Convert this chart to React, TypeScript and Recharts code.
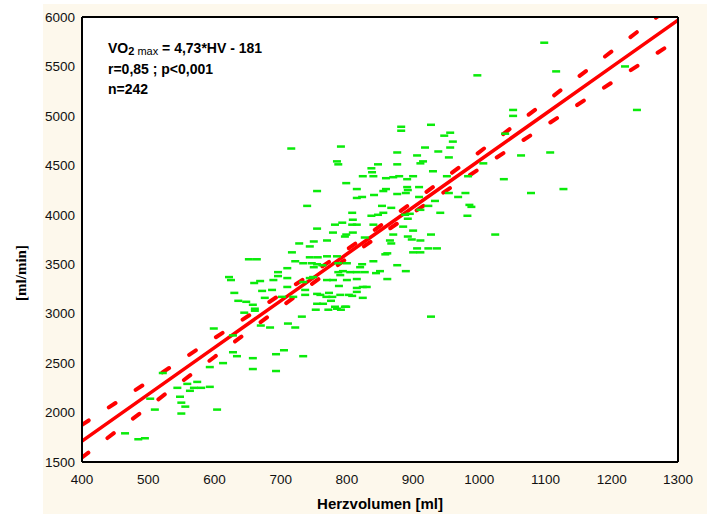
import React from 'react';
import {
  ComposedChart,
  Scatter,
  Line,
  XAxis,
  YAxis,
  CartesianGrid,
} from 'recharts';

// Herzvolumen [ml] of every subject
const herzvolumen = [
  465, 485, 495, 503, 510, 522, 544, 548, 550, 556,
  550, 559, 563, 569, 574, 580, 593, 604, 593, 613,
  599, 628, 628, 634, 658, 658, 693, 705, 693, 734,
  645, 661, 670, 684, 711, 732, 722, 622, 625, 630,
  636, 648, 658, 661, 652, 664, 660, 669, 672, 676,
  689, 687, 696, 696, 710, 710, 710, 702, 719, 722,
  717, 728, 734, 737, 734, 744, 756, 747, 755, 763,
  750, 744, 737, 755, 760, 769, 778, 776, 773, 790,
  755, 764, 753, 772, 782, 785, 799, 770, 785, 770,
  779, 787, 790, 787, 800, 800, 788, 808, 815, 815,
  815, 824, 803, 824, 797, 791, 805, 815, 827, 844,
  850, 794, 823, 820, 840, 861, 876, 889, 830, 927,
  749, 744, 750, 770, 755, 782, 793, 779, 799, 797,
  809, 808, 815, 809, 808, 837, 847, 855, 840, 827,
  870, 885, 892, 895, 900, 892, 927, 865, 867, 911,
  898, 906, 923, 936, 900, 911, 861, 858, 941, 982,
  911, 888, 923, 933, 853, 867, 740, 1024, 716, 791,
  785, 787, 847, 876, 876, 882, 882, 927, 947, 956,
  960, 906, 918, 938, 956, 954, 915, 911, 930, 837,
  838, 824, 840, 859, 870, 879, 891, 900, 951, 983,
  799, 755, 815, 855, 859, 891, 892, 909, 876, 889,
  841, 815, 823, 909, 954, 968, 979, 985, 988, 1006,
  1037, 1039, 1051, 1051, 1063, 1107, 1078, 1127, 997, 1098,
  1116, 1220, 1238,
];

// VO2 max [ml/min], same order
const vo2max = [
  1790, 1730, 1740, 2140, 2030, 2400, 2250, 2160, 2100, 2060,
  1990, 2290, 2220, 2250, 2310, 2250, 2260, 2030, 2460, 2500,
  2850, 2780, 2610, 2570, 2550, 2440, 2590, 2630, 2420, 2570,
  3010, 3030, 2880, 2860, 2900, 2970, 2860, 3370, 3340, 3210,
  3130, 3120, 3090, 3050, 3550, 3550, 3310, 3330, 3230, 3160,
  3340, 3240, 3420, 3380, 3460, 3360, 3270, 3170, 3170, 3530,
  3620, 3710, 3510, 3240, 3320, 3570, 3570, 3510, 3500, 3490,
  3470, 3360, 3190, 3200, 3190, 3170, 3170, 3130, 3210, 3190,
  3100, 3100, 3040, 3040, 3070, 3050, 3070, 3580, 3580, 3340,
  3340, 3420, 3390, 3510, 3510, 3340, 3280, 3180, 3220, 3350,
  3260, 3270, 3190, 3160, 3070, 3040, 3420, 3420, 3420, 3410,
  3430, 3430, 3500, 3470, 3530, 3350, 3490, 3430, 3270, 2970,
  3370, 3680, 3730, 3740, 3860, 3900, 3920, 3820, 3800, 3780,
  3820, 3900, 3900, 3950, 4020, 3990, 4000, 4020, 3900, 3770,
  3800, 3880, 3960, 4010, 3840, 3780, 3800, 3740, 3710, 3740,
  3750, 3660, 3660, 3660, 3620, 3620, 3610, 3600, 4020, 3990,
  4050, 4000, 4090, 4140, 4090, 4070, 4090, 3800, 4670, 4690,
  4540, 4510, 4510, 4510, 4630, 4890, 4850, 4910, 4800, 4830,
  4740, 4600, 4680, 4640, 4680, 4580, 4540, 4520, 4440, 4470,
  4430, 4390, 4390, 4370, 4380, 4390, 4360, 4390, 4390, 4390,
  4320, 4240, 4260, 4240, 4260, 4280, 4250, 4280, 4210, 4220,
  4200, 4170, 4180, 4180, 4220, 4180, 4220, 4100, 4080, 4520,
  4360, 4820, 5060, 5000, 4600, 4630, 4220, 4260, 5410, 5740,
  5450, 5500, 5060,
];

// regression line and its confidence band, read at the x ticks
const xTicks = [400, 500, 600, 700, 800, 900, 1000, 1100, 1200, 1300];
const fitLine = [1711, 2184, 2657, 3130, 3603, 4076, 4549, 5022, 5495, 5968];
const upperBand = [1876, 2312, 2752, 3195, 3648, 4131, 4634, 5142, 5653, 6163];
const lowerBand = [1546, 2056, 2562, 3065, 3558, 4021, 4464, 4902, 5337, 5773];
const yTicks = [1500, 2000, 2500, 3000, 3500, 4000, 4500, 5000, 5500, 6000];

const points = herzvolumen.map((x, i) => ({ x, y: vo2max[i] }));
const lineData = xTicks.map((x, i) => ({
  x,
  fit: fitLine[i],
  upper: upperBand[i],
  lower: lowerBand[i],
}));

const CREAM = '#fdf8ec';
const RED = '#ff0000';
const GREEN = '#0aeb0a';
const tickFont = { fontSize: 13.5, fill: '#111', fontFamily: '"Liberation Sans", Arial, sans-serif' };

const Dash = (props) => {
  const { cx, cy } = props;
  if (cx == null || cy == null) return null;
  return <rect x={cx - 4} y={cy - 1.25} width={8} height={2.5} fill={GREEN} />;
};

const App = () => {
  return (
    <div style={{ position: 'absolute', left: 0, top: 0, width: 707, height: 514, overflow: 'hidden', background: '#fff' }}>
      <div style={{ position: 'absolute', left: 43, top: 4, right: 0, bottom: 0, background: CREAM }} />
      <div style={{ position: 'absolute', left: 0, top: 0 }}>
        <ComposedChart
          width={707}
          height={514}
          margin={{ top: 17, right: 29, left: 0, bottom: 0 }}
        >
          <CartesianGrid fill="#ffffff" horizontal={false} vertical={false} />
          <XAxis
            dataKey="x"
            type="number"
            domain={[400, 1300]}
            ticks={xTicks}
            allowDataOverflow
            height={52}
            tickLine={false}
            tickSize={0}
            tickMargin={12}
            axisLine={{ stroke: '#000', strokeWidth: 2 }}
            tick={tickFont}
          />
          <XAxis
            xAxisId="top"
            orientation="top"
            dataKey="x"
            type="number"
            domain={[400, 1300]}
            ticks={xTicks}
            mirror
            tickSize={5}
            tickLine={{ stroke: '#000', strokeWidth: 1.5 }}
            axisLine={{ stroke: '#000', strokeWidth: 2 }}
            tickFormatter={() => ''}
          />
          <YAxis
            type="number"
            domain={[1500, 6000]}
            ticks={yTicks}
            allowDataOverflow
            width={82}
            tickLine={false}
            tickSize={0}
            tickMargin={7}
            axisLine={{ stroke: '#000', strokeWidth: 2 }}
            tick={tickFont}
          />
          <YAxis
            yAxisId="right"
            orientation="right"
            type="number"
            domain={[1500, 6000]}
            ticks={yTicks}
            mirror
            tickSize={5}
            tickLine={{ stroke: '#000', strokeWidth: 1.5 }}
            axisLine={{ stroke: '#000', strokeWidth: 2 }}
            tickFormatter={() => ''}
          />
          <Scatter data={points} dataKey="y" shape={<Dash />} isAnimationActive={false} />
          <Line
            data={lineData}
            dataKey="upper"
            stroke={RED}
            strokeWidth={4}
            strokeDasharray="8 24"
            strokeLinecap="round"
            dot={false}
            type="monotone"
            isAnimationActive={false}
          />
          <Line
            data={lineData}
            dataKey="lower"
            stroke={RED}
            strokeWidth={4}
            strokeDasharray="8 24"
            strokeLinecap="round"
            dot={false}
            type="monotone"
            isAnimationActive={false}
          />
          <Line
            data={lineData}
            dataKey="fit"
            stroke={RED}
            strokeWidth={3.5}
            dot={false}
            type="linear"
            isAnimationActive={false}
          />
        </ComposedChart>
      </div>

      <div
        style={{
          position: 'absolute',
          left: 108,
          top: 38,
          fontFamily: '"Liberation Sans", Arial, sans-serif',
          fontWeight: 'bold',
          fontSize: 14,
          lineHeight: '20px',
          color: '#000',
          whiteSpace: 'nowrap',
        }}
      >
        <div>
          VO<span style={{ fontSize: 11, position: 'relative', top: 2 }}>2 <span style={{ fontWeight: 'normal' }}>max</span></span> = 4,73*HV - 181
        </div>
        <div>r=0,85 ; p&lt;0,001</div>
        <div>n=242</div>
      </div>

      <div
        style={{
          position: 'absolute',
          left: 380,
          top: 495,
          transform: 'translateX(-50%)',
          fontFamily: '"Liberation Sans", Arial, sans-serif',
          fontWeight: 'bold',
          fontSize: 15,
          lineHeight: '18px',
          whiteSpace: 'nowrap',
        }}
      >
        Herzvolumen [ml]
      </div>

      <div
        style={{
          position: 'absolute',
          left: 21,
          top: 273,
          transform: 'translate(-50%, -50%) rotate(-90deg)',
          fontFamily: '"Liberation Serif", "Times New Roman", serif',
          fontWeight: 'bold',
          fontSize: 15,
          lineHeight: '16px',
          whiteSpace: 'nowrap',
        }}
      >
        [ml/min]
      </div>
    </div>
  );
};

export default App;
